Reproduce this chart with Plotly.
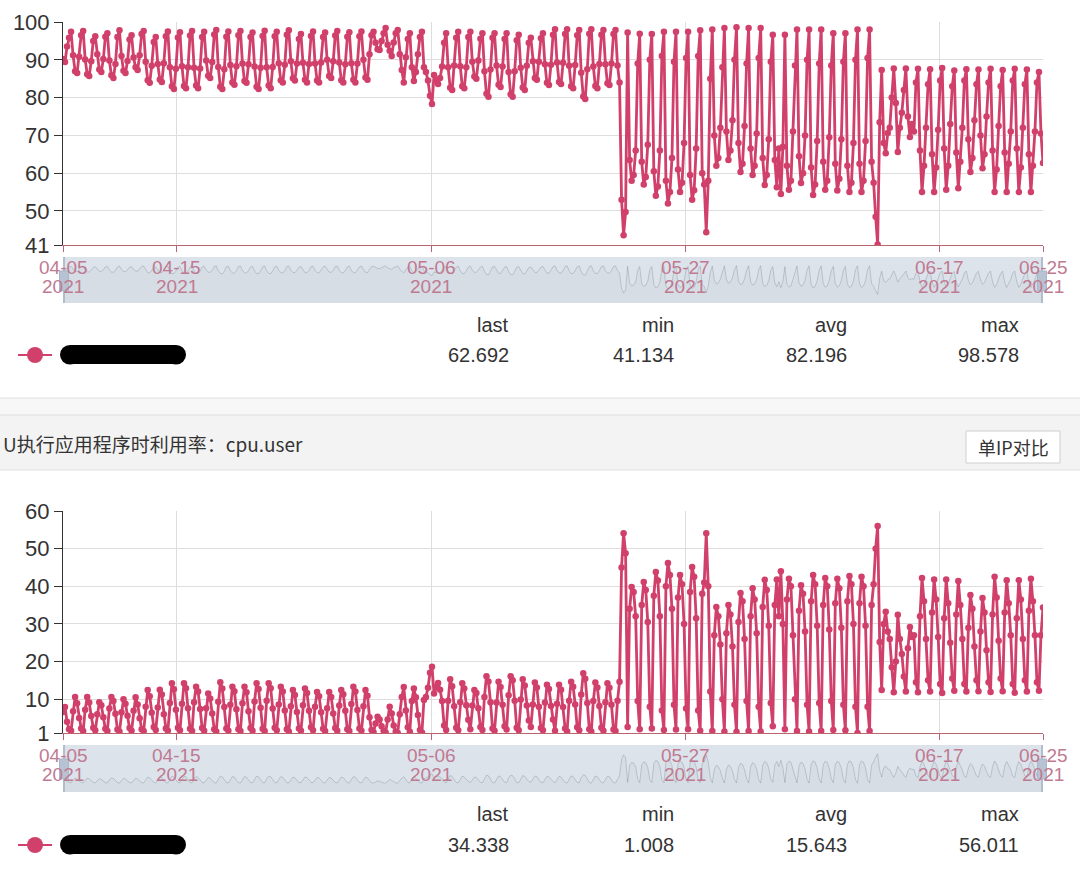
import pandas as pd
import plotly.graph_objects as go

W, H = 1080, 869

series_start = "2021-04-05 14:00"
series_end = "2021-06-25 14:00"
sample_step = "4h"

# cpu idle-like series (top panel), samples at 02,06,10,14,18,22h each day
idle_apr = [
    90.2, 89.4, 93.5,
    95.8, 97.4, 91.2, 87.0, 86.5, 90.8,
    96.5, 97.6, 90.1, 86.2, 85.7, 89.6,
    95.0, 96.2, 91.5, 87.4, 86.8, 90.2,
    96.1, 97.0, 89.8, 85.9, 85.2, 88.9,
    96.0, 97.8, 91.0, 87.1, 86.5, 89.7,
    95.4, 96.5, 90.6, 88.0, 87.3, 91.2,
    96.8, 97.6, 89.5, 84.6, 83.9, 88.4,
    94.7, 96.0, 88.9, 84.8, 84.1, 89.1,
    96.2, 97.5, 88.0, 83.0, 82.3, 87.6,
    95.9, 97.3, 88.3, 83.1, 82.5, 88.0,
    96.4, 97.6, 87.9, 83.2, 82.5, 87.7,
    96.0, 97.4, 89.8, 85.8, 85.2, 89.4,
    96.7, 97.9, 88.1, 82.9, 82.3, 87.5,
    96.1, 97.5, 88.6, 84.0, 83.4, 88.3,
    96.5, 97.6, 89.0, 84.4, 83.9, 88.8,
    96.0, 97.2, 88.2, 82.9, 82.3, 87.9,
    96.3, 97.7, 88.0, 83.2, 82.5, 88.1,
    96.2, 97.4, 89.1, 84.6, 84.0, 88.7,
    96.6, 97.8, 89.6, 85.1, 84.5, 89.0,
    95.5, 96.8, 89.2, 84.7, 84.0, 88.9,
    96.3, 97.5, 89.0, 84.5, 84.0, 89.3,
    96.0, 97.2, 90.0, 85.7, 85.2, 89.6,
    96.4, 97.6, 89.3, 84.6, 84.0, 88.8,
    96.1, 97.3, 89.1, 84.7, 84.0, 89.0,
    96.2, 97.5, 90.0, 85.3, 84.7, 91.5,
]
idle_may = [
    96.5, 97.4, 94.5, 92.8, 92.6, 95.0,
    97.0, 98.4, 94.0, 92.4, 91.0, 94.6,
    97.0, 97.9, 91.5, 87.3, 84.0, 90.7,
    95.5, 97.0, 88.0, 84.4, 86.8, 91.5,
    96.0, 97.4, 88.0, 86.8, 84.5, 80.5,
    78.3, 86.0, 84.5, 83.6, 85.2, 88.2,
    94.5, 97.0, 88.0, 82.6, 82.0, 88.5,
    95.8, 97.4, 88.3, 83.0, 82.5, 88.0,
    96.0, 97.4, 89.5, 85.6, 85.0, 89.8,
    95.6, 97.0, 87.0, 81.0, 80.2, 87.4,
    95.8, 97.0, 88.5, 83.4, 82.8, 88.2,
    95.5, 97.0, 86.8, 80.9, 80.2, 87.0,
    95.2, 96.6, 87.9, 82.7, 82.0, 88.4,
    94.5, 95.8, 89.6, 85.2, 84.7, 89.5,
    95.7, 97.0, 88.8, 83.9, 83.3, 88.7,
    96.6, 98.1, 89.3, 84.1, 83.6, 89.2,
    96.8, 98.1, 88.4, 83.0, 82.5, 88.6,
    96.5, 97.9, 86.6, 80.3, 79.6, 87.5,
    96.9, 98.1, 88.2, 83.1, 82.5, 88.9,
    96.6, 97.9, 88.8, 83.8, 83.3, 89.0,
    96.8, 97.9, 88.5, 84.0, 53.0, 43.6,
    49.7, 97.2, 63.5, 58.0, 59.5, 66.0,
    89.0, 96.9, 63.0, 57.0, 59.0, 67.5,
    90.0, 96.8, 60.5, 54.0, 56.5, 66.0,
    91.0, 97.4, 58.0, 52.0, 55.0, 64.0,
    89.5, 97.4, 61.0, 55.0, 57.5, 68.0,
    90.5, 97.4, 59.5, 53.0, 55.5, 66.5,
    91.0, 97.8, 60.0, 57.0, 44.4, 58.0,
    85.0, 98.0, 70.0, 62.0, 64.0, 72.0,
    88.0, 98.4, 71.0, 63.5, 66.0, 74.0,
    90.0, 98.578, 68.0, 60.3, 62.5, 72.5,
]
idle_jun = [
    89.0, 98.4, 66.5, 59.5, 62.0, 70.5,
    90.5, 98.4, 64.0, 56.9, 59.5, 69.0,
    89.5, 96.6, 63.5, 56.3, 66.5, 54.5,
    67.0, 96.6, 62.0, 55.6, 58.0, 71.0,
    88.5, 98.0, 64.5, 57.4, 60.0, 70.0,
    90.0, 98.0, 61.5, 54.2, 57.0, 68.5,
    89.0, 98.0, 63.0, 55.6, 58.0, 69.5,
    88.5, 97.0, 62.5, 55.4, 58.5, 69.0,
    89.5, 97.0, 62.0, 55.0, 57.5, 68.0,
    90.0, 98.0, 62.5, 55.0, 58.0, 68.5,
    90.5, 98.0, 63.0, 57.5, 48.5, 41.134,
    73.5, 87.3, 68.0, 65.3, 70.6, 72.0,
    80.0, 87.7, 78.6, 65.6, 72.0, 76.0,
    82.0, 87.7, 75.0, 69.6, 73.0, 71.0,
    84.0, 87.6, 66.0, 55.0, 62.0, 72.0,
    83.5, 87.5, 65.0, 55.0, 61.5, 71.5,
    84.5, 87.8, 66.5, 55.6, 62.0, 73.0,
    83.0, 87.2, 65.5, 56.0, 63.0, 72.0,
    84.5, 87.5, 69.0, 60.3, 64.0, 74.0,
    83.5, 87.4, 70.0, 61.3, 65.0, 75.0,
    84.0, 87.6, 66.0, 55.0, 61.0, 72.5,
    83.0, 87.3, 65.5, 55.0, 62.5, 71.0,
    84.5, 87.6, 66.5, 55.0, 61.5, 72.0,
    83.5, 87.4, 65.0, 55.0, 62.0, 71.0,
    84.0, 86.8, 70.5, 62.692,
]

# cpu.user series (bottom panel)
user_apr = [
    6.6, 7.9, 4.0,
    2.0, 1.6, 6.8, 10.6, 8.9, 5.0,
    2.2, 1.5, 7.2, 10.6, 9.1, 5.5,
    2.4, 1.7, 6.0, 9.2, 8.4, 5.2,
    2.1, 1.5, 7.5, 10.6, 9.5, 6.1,
    1.9, 1.4, 6.5, 10.0, 8.8, 5.6,
    2.3, 1.6, 6.9, 10.5, 8.6, 4.9,
    2.0, 1.5, 8.0, 12.4, 10.8, 6.4,
    2.6, 1.8, 7.8, 12.5, 11.2, 6.0,
    2.2, 1.6, 9.0, 14.2, 12.6, 7.2,
    2.4, 1.7, 8.8, 14.2, 12.9, 7.6,
    2.1, 1.5, 9.2, 13.3, 12.0, 7.4,
    2.3, 1.6, 7.6, 11.5, 10.2, 6.2,
    2.0, 1.4, 9.3, 14.5, 12.8, 7.9,
    2.2, 1.6, 8.5, 13.3, 12.1, 7.3,
    2.0, 1.5, 8.9, 13.3, 11.8, 6.8,
    2.3, 1.6, 9.4, 14.2, 12.7, 7.7,
    2.1, 1.5, 9.6, 14.2, 12.9, 7.5,
    2.4, 1.7, 8.6, 13.3, 12.0, 7.0,
    2.0, 1.4, 8.1, 12.4, 11.1, 6.6,
    2.2, 1.6, 8.4, 12.8, 11.6, 6.9,
    2.5, 1.7, 8.0, 11.9, 10.8, 6.5,
    2.1, 1.5, 7.6, 11.9, 10.6, 6.2,
    2.3, 1.6, 8.3, 12.4, 11.3, 6.9,
    2.0, 1.5, 8.7, 13.3, 12.0, 7.1,
    2.2, 1.6, 8.1, 12.4, 10.9, 5.2,
]
user_may = [
    1.8, 1.2, 3.5, 5.3, 4.6, 2.8,
    1.6, 1.1, 4.6, 8.0, 6.2, 3.0,
    1.4, 1.0, 6.0, 10.6, 13.2, 7.0,
    2.5, 1.3, 9.5, 12.8, 10.5, 5.8,
    1.8, 1.1, 9.8, 10.6, 13.0, 17.0,
    18.6, 11.5, 13.2, 14.3, 12.5, 9.5,
    3.0, 1.8, 9.6, 15.3, 13.4, 8.1,
    2.4, 1.7, 9.2, 14.2, 12.8, 8.4,
    4.5, 2.0, 8.3, 12.4, 11.6, 7.6,
    2.6, 1.8, 10.6, 16.1, 14.7, 9.2,
    2.2, 1.6, 9.1, 14.6, 13.2, 8.5,
    2.8, 1.9, 11.0, 16.1, 15.0, 9.6,
    2.4, 1.7, 9.9, 15.3, 13.6, 8.3,
    4.3, 2.6, 8.6, 14.4, 13.1, 8.0,
    2.3, 1.7, 9.1, 13.8, 12.7, 8.2,
    4.6, 1.6, 8.8, 13.8, 12.5, 7.9,
    2.2, 1.4, 9.6, 14.6, 13.3, 8.6,
    2.5, 1.7, 11.2, 16.9, 15.4, 9.0,
    2.0, 1.4, 9.5, 14.4, 13.1, 8.2,
    2.4, 1.6, 9.2, 14.2, 13.0, 8.5,
    1.9, 1.5, 9.6, 14.6, 45.0, 54.1,
    48.8, 2.6, 34.0, 39.8, 38.5, 32.0,
    9.5, 2.0, 35.0, 41.1, 39.0, 30.5,
    8.0, 2.2, 37.5, 43.8, 41.5, 32.0,
    7.0, 1.8, 40.0, 46.2, 43.0, 34.0,
    8.5, 1.9, 37.0, 43.0, 40.5, 30.0,
    7.5, 2.0, 38.5, 45.1, 42.5, 31.5,
    7.0, 1.6, 38.0, 41.0, 54.1, 40.0,
    12.0, 1.5, 27.0, 34.5, 32.0, 24.5,
    10.0, 1.4, 27.5, 35.0, 32.5, 24.0,
    8.5, 1.3, 30.5, 38.2, 36.0, 26.0,
]
user_jun = [
    9.5, 1.5, 32.0, 39.5, 36.5, 27.5,
    8.0, 1.4, 34.5, 41.7, 39.0, 29.5,
    9.0, 2.8, 35.0, 41.8, 32.0, 44.0,
    30.0, 2.0, 36.5, 42.0, 40.0, 27.0,
    10.0, 1.5, 33.5, 40.3, 38.0, 28.0,
    8.5, 1.4, 36.0, 43.0, 40.5, 29.5,
    9.0, 1.5, 35.0, 42.2, 40.0, 28.5,
    9.5, 1.8, 35.5, 42.0, 39.5, 29.0,
    8.5, 1.7, 36.0, 42.7, 40.5, 30.0,
    8.0, 1.008, 35.5, 42.5, 40.0, 29.5,
    8.0, 1.5, 35.0, 40.5, 50.0, 56.011,
    25.2, 12.4, 30.0, 33.2, 28.0, 26.0,
    18.5, 11.8, 20.0, 32.4, 26.0, 22.0,
    16.0, 12.0, 23.5, 29.2, 26.5, 27.0,
    14.5, 11.8, 32.0, 42.2, 36.0, 26.0,
    15.0, 12.0, 33.0, 41.8, 36.5, 26.5,
    14.0, 11.6, 31.5, 41.8, 35.5, 25.0,
    15.5, 12.2, 32.5, 41.4, 35.0, 26.0,
    14.0, 12.0, 29.0, 37.7, 34.0, 24.0,
    15.0, 12.1, 28.0, 36.9, 33.0, 23.0,
    14.5, 11.9, 32.5, 42.5, 37.0, 25.5,
    15.5, 12.1, 33.0, 41.6, 35.5, 27.0,
    14.0, 11.7, 31.5, 41.6, 36.5, 26.0,
    15.0, 12.0, 33.5, 42.0, 36.0, 27.0,
    14.5, 12.2, 27.0, 34.338,
]

tick_dates = ["2021-04-05 14:00", "2021-04-15", "2021-05-06", "2021-05-27", "2021-06-17", "2021-06-25 14:00"]
tick_md = ["04-05", "04-15", "05-06", "05-27", "06-17", "06-25"]
tick_year = ["2021", "2021", "2021", "2021", "2021", "2021"]
idle_yticks = [41, 50, 60, 70, 80, 90, 100]
user_yticks = [1, 10, 20, 30, 40, 50, 60]
stat_names = ["last", "min", "avg", "max"]
idle_stats = ["62.692", "41.134", "82.196", "98.578"]
user_stats = ["34.338", "1.008", "15.643", "56.011"]
header_title = "U执行应用程序时利用率：cpu.user"
button_label = "单IP对比"

# ---------------------------------------------------------------
times = pd.date_range(series_start, series_end, freq=sample_step)
idle = idle_apr + idle_may + idle_jun
user = user_apr + user_may + user_jun
n = min(len(times), len(idle), len(user))
times = times[:n]
idle = idle[:n]
user = user[:n]

C = "#d1406a"
AX_RED = "#b9646f"
GRID = "#dddddd"
LBL = "#bf7a92"
TXT = "#333333"
FONT = "Liberation Sans, Arial, sans-serif"
CJK = "Noto Sans CJK SC, Noto Sans, sans-serif"
PL, PR = 63, 1043


def fx(px):
    return px / W


def fy(py):
    return 1 - py / H


def axkey(name):
    return ("xaxis" if name[0] == "x" else "yaxis") + name[1:]


panels = [
    dict(y=idle, yr=[41, 100], yt=idle_yticks, stats=idle_stats, top=22, bot=245,
         sl=(257, 303), lab=(267, 286), hdr=325, row=355, ax=("x", "y"), sax=("x2", "y2")),
    dict(y=user, yr=[1, 60], yt=user_yticks, stats=user_stats, top=511, bot=733,
         sl=(745, 792), lab=(755, 774), hdr=814, row=845, ax=("x3", "y3"), sax=("x4", "y4")),
]

fig = go.Figure()
layout = {}
shapes = []
annotations = []

for p in panels:
    xa, ya = p["ax"]
    sxa, sya = p["sax"]
    fig.add_trace(go.Scatter(
        x=times, y=p["y"], mode="lines+markers",
        line=dict(color=C, width=2.8), marker=dict(color=C, size=6.5),
        xaxis=xa, yaxis=ya, hoverinfo="skip", showlegend=False))
    vmin, vmax = min(p["y"]), max(p["y"])
    span = vmax - vmin
    lo, hi = vmin - 0.3 * span, vmax + 0.3 * span
    fig.add_trace(go.Scatter(
        x=[times[0], times[-1]], y=[lo, lo], mode="lines", line=dict(width=0),
        xaxis=sxa, yaxis=sya, hoverinfo="skip", showlegend=False))
    fig.add_trace(go.Scatter(
        x=times, y=p["y"], mode="lines",
        line=dict(color="rgba(47,69,84,0.25)", width=0.8),
        fill="tonexty", fillcolor="rgba(47,69,84,0.04)",
        xaxis=sxa, yaxis=sya, hoverinfo="skip", showlegend=False))

    layout[axkey(xa)] = dict(
        domain=[fx(PL), fx(PR)], anchor=ya, type="date", automargin=False,
        range=[series_start, series_end], tickmode="array", tickvals=tick_dates,
        showticklabels=False, ticks="outside", ticklen=6, tickcolor=AX_RED,
        showline=True, linecolor=AX_RED, linewidth=1,
        showgrid=True, gridcolor=GRID, gridwidth=1, zeroline=False, fixedrange=True)
    layout[axkey(ya)] = dict(
        domain=[fy(p["bot"]), fy(p["top"])], anchor=xa, range=p["yr"], automargin=False,
        tickmode="array", tickvals=p["yt"], ticks="outside", ticklen=8,
        tickcolor=TXT, showline=True, linecolor=TXT, linewidth=1,
        showgrid=True, gridcolor=GRID, gridwidth=1, zeroline=False,
        tickfont=dict(family=FONT, size=22, color=TXT), fixedrange=True)
    layout[axkey(sxa)] = dict(
        domain=[fx(PL), fx(PR)], anchor=sya, type="date", automargin=False,
        range=[series_start, series_end], visible=False, fixedrange=True)
    layout[axkey(sya)] = dict(
        domain=[fy(p["sl"][1]), fy(p["sl"][0])], anchor=sxa, automargin=False,
        range=[lo, hi], visible=False, fixedrange=True)

    # dataZoom slider body
    st, sb = p["sl"]
    shapes.append(dict(type="rect", xref="paper", yref="paper", layer="below",
                       x0=fx(PL), x1=fx(PR), y0=fy(sb), y1=fy(st),
                       fillcolor="#dde3eb", line=dict(width=0)))
    for hx in (PL + 1, PR - 1):
        shapes.append(dict(type="line", xref="paper", yref="paper", layer="above",
                           x0=fx(hx), x1=fx(hx), y0=fy(sb), y1=fy(st),
                           line=dict(color="#a3b2c6", width=1.5)))
        shapes.append(dict(type="rect", xref="paper", yref="paper", layer="above",
                           x0=fx(hx - 4.5), x1=fx(hx + 4.5), y0=fy(st + 34), y1=fy(st + 14),
                           fillcolor="#b7c3d3", line=dict(color="#a7b7cc", width=1)))

    # x tick labels (two lines)
    for d, md, yr in zip(tick_dates, tick_md, tick_year):
        annotations.append(dict(x=d, xref=xa, y=fy(p["lab"][0]), yref="paper", text=md,
                                showarrow=False, xanchor="center", yanchor="middle",
                                font=dict(family=FONT, size=19, color=LBL)))
        annotations.append(dict(x=d, xref=xa, y=fy(p["lab"][1]), yref="paper", text=yr,
                                showarrow=False, xanchor="center", yanchor="middle",
                                font=dict(family=FONT, size=19, color=LBL)))

    # legend row
    r = p["row"]
    shapes.append(dict(type="line", xref="paper", yref="paper", x0=fx(18), x1=fx(52),
                       y0=fy(r), y1=fy(r), line=dict(color=C, width=2)))
    shapes.append(dict(type="circle", xref="paper", yref="paper", x0=fx(27), x1=fx(43),
                       y0=fy(r + 8), y1=fy(r - 8), fillcolor=C, line=dict(width=0)))
    shapes.append(dict(type="rect", xref="paper", yref="paper", x0=fx(70), x1=fx(176),
                       y0=fy(r + 9), y1=fy(r - 10), fillcolor="#000000", line=dict(width=0)))
    for cx in (70, 176):
        shapes.append(dict(type="circle", xref="paper", yref="paper", x0=fx(cx - 10), x1=fx(cx + 10),
                           y0=fy(r + 9.5), y1=fy(r - 10), fillcolor="#000000", line=dict(width=0)))
    for xr, name, val in zip([511, 676, 849, 1021], stat_names, p["stats"]):
        annotations.append(dict(x=fx(xr), y=fy(p["hdr"]), xref="paper", yref="paper", text=name,
                                showarrow=False, xanchor="right", yanchor="middle",
                                font=dict(family=FONT, size=20, color=TXT)))
        annotations.append(dict(x=fx(xr), y=fy(r), xref="paper", yref="paper", text=val,
                                showarrow=False, xanchor="right", yanchor="middle",
                                font=dict(family=FONT, size=20, color=TXT)))

# separator / header band between panels
shapes.append(dict(type="rect", xref="paper", yref="paper", layer="below",
                   x0=0, x1=1, y0=fy(415), y1=fy(398), fillcolor="#f7f7f7", line=dict(width=0)))
shapes.append(dict(type="rect", xref="paper", yref="paper", layer="below",
                   x0=0, x1=1, y0=fy(470), y1=fy(415), fillcolor="#f3f3f3", line=dict(width=0)))
for ly in (398, 415, 470):
    shapes.append(dict(type="line", xref="paper", yref="paper", x0=0, x1=1,
                       y0=fy(ly), y1=fy(ly), line=dict(color="#dfdfdf", width=1)))
shapes.append(dict(type="rect", xref="paper", yref="paper", x0=fx(966), x1=fx(1060),
                   y0=fy(463), y1=fy(431), fillcolor="#ffffff", line=dict(color="#cfcfcf", width=1)))
annotations.append(dict(x=fx(1), y=fy(443), xref="paper", yref="paper", text=header_title,
                        showarrow=False, xanchor="left", yanchor="middle",
                        font=dict(family=CJK, size=19, color=TXT)))
annotations.append(dict(x=fx(1013), y=fy(447), xref="paper", yref="paper", text=button_label,
                        showarrow=False, xanchor="center", yanchor="middle",
                        font=dict(family=CJK, size=18, color=TXT)))

fig.update_layout(
    width=W, height=H, margin=dict(l=0, r=0, t=0, b=0, pad=0), autosize=False,
    paper_bgcolor="#ffffff", plot_bgcolor="rgba(0,0,0,0)",
    showlegend=False, shapes=shapes, annotations=annotations, **layout)

fig.write_html("out.html", config={"displayModeBar": False})
